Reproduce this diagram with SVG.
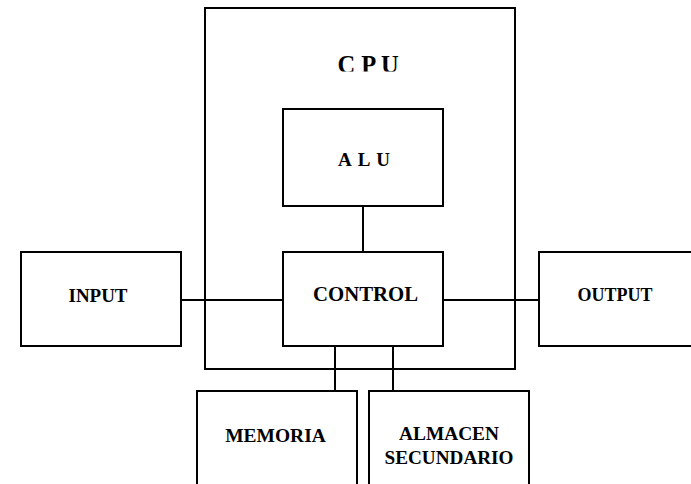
<svg xmlns="http://www.w3.org/2000/svg" width="691" height="484" viewBox="0 0 691 484">
<style>
.box{fill:#fff;stroke:#000;stroke-width:2}
.cpu{fill:none;stroke:#000;stroke-width:2}
.lbl{font-family:'Liberation Serif','Times New Roman',Times,serif;font-weight:bold;font-size:19px;fill:#000;text-anchor:middle}
.con line{stroke:#000;stroke-width:2}
</style>
<defs>
<clipPath id="cpuclip"><rect x="300" y="40" width="140" height="31.5"/></clipPath>
</defs>
<rect width="691" height="484" fill="#fff"/>
<g id="cpu">
<rect class="cpu" x="205" y="8" width="310" height="361"/>
<text class="lbl" x="368" y="73" font-family="Liberation Serif, serif" style="font-size:24.5px" clip-path="url(#cpuclip)">C P U</text>
</g>
<g class="con" id="connectors">
<line x1="363" y1="206" x2="363" y2="253"/>
<line x1="181" y1="300" x2="283" y2="300"/>
<line x1="443" y1="300" x2="539" y2="300"/>
<line x1="335" y1="346" x2="335" y2="391"/>
<line x1="393" y1="346" x2="393" y2="391"/>
</g>
<g id="alu">
<rect class="box" x="283" y="109" width="160" height="97"/>
<text class="lbl" x="364" y="165.5" textLength="52" lengthAdjust="spacing">A L U</text>
</g>
<g id="control">
<rect class="box" x="283" y="252" width="160" height="94"/>
<text class="lbl" x="365.5" y="301" textLength="105" lengthAdjust="spacingAndGlyphs" style="font-size:20px">CONTROL</text>
</g>
<g id="input">
<rect class="box" x="21" y="252" width="160" height="94"/>
<text class="lbl" x="98" y="301.5" textLength="59" lengthAdjust="spacingAndGlyphs">INPUT</text>
</g>
<g id="output">
<rect class="box" x="539" y="252" width="160" height="94"/>
<text class="lbl" x="615" y="301" textLength="75" lengthAdjust="spacingAndGlyphs">OUTPUT</text>
</g>
<g id="memoria">
<rect class="box" x="197" y="391" width="160" height="110"/>
<text class="lbl" x="275.5" y="441.5" textLength="100.5" lengthAdjust="spacingAndGlyphs">MEMORIA</text>
</g>
<g id="almacen">
<rect class="box" x="369" y="391" width="160" height="110"/>
<text class="lbl" x="449" y="440" textLength="100" lengthAdjust="spacingAndGlyphs">ALMACEN</text>
<text class="lbl" x="449" y="464" textLength="129" lengthAdjust="spacingAndGlyphs">SECUNDARIO</text>
</g>
</svg>
